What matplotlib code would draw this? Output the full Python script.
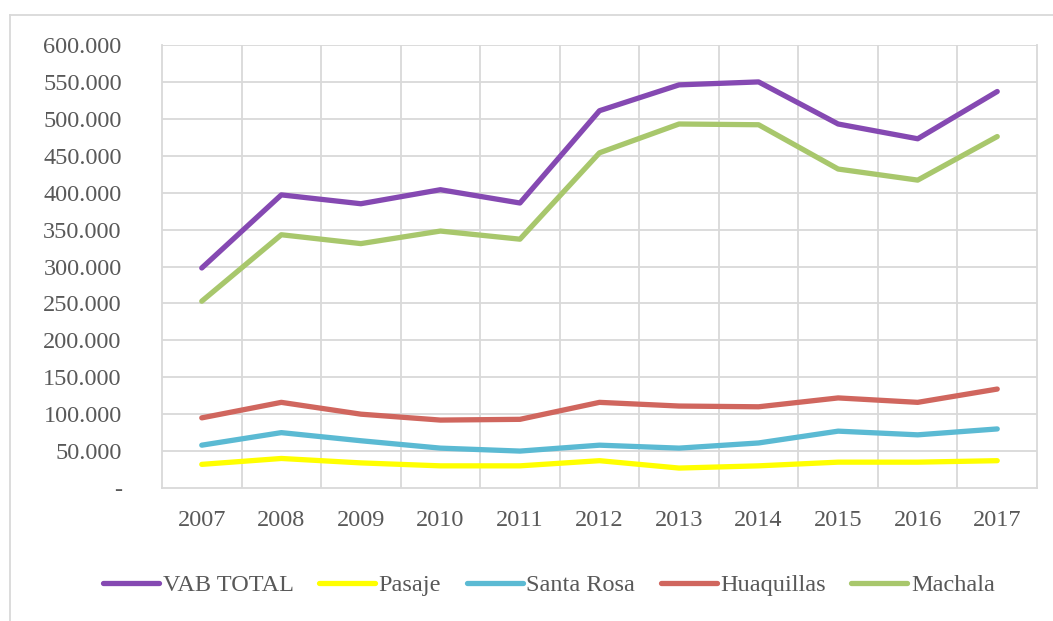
import matplotlib
matplotlib.use("Agg")
import matplotlib.pyplot as plt
from matplotlib.lines import Line2D
from matplotlib.ticker import FuncFormatter, MultipleLocator

years = ["2007", "2008", "2009", "2010", "2011", "2012", "2013", "2014", "2015", "2016", "2017"]
vab_total = [298, 397, 385, 404, 386, 511, 546, 550, 493, 473, 537]
pasaje = [32, 40, 34, 30, 30, 37, 27, 30, 35, 35, 37]
santa_rosa = [58, 75, 64, 54, 50, 58, 54, 61, 77, 72, 80]
huaquillas = [95, 116, 100, 92, 93, 116, 111, 110, 122, 116, 134]
machala = [253, 343, 331, 348, 337, 454, 493, 492, 432, 417, 476]

series = [
    ("VAB TOTAL", vab_total, "#8549B2"),
    ("Pasaje", pasaje, "#FFFF00"),
    ("Santa Rosa", santa_rosa, "#5BBAD3"),
    ("Huaquillas", huaquillas, "#D0665E"),
    ("Machala", machala, "#A8C76C"),
]

plt.rcParams['font.family'] = ['Liberation Serif', 'DejaVu Serif']
txt = "#595959"
fs = 17.5

fig = plt.figure(figsize=(10.53, 6.21), dpi=100)
W, H = 1053, 621
ax = fig.add_axes([162 / W, 1 - 488 / H, (1037 - 162) / W, (488 - 45) / H])

x = list(range(len(years)))
for name, vals, col in series:
    ax.plot(x, [v * 1000 for v in vals], color=col, lw=3.8, solid_capstyle="round",
            solid_joinstyle="round", label=name)

ax.set_xlim(-0.5, len(years) - 0.5)
ax.set_ylim(0, 600000)
ax.yaxis.set_major_locator(MultipleLocator(50000))

def fmt(v, pos):
    if v == 0:
        return "-"
    return f"{int(v):,}".replace(",", ".")

ax.yaxis.set_major_formatter(FuncFormatter(fmt))
ax.set_xticks(x)
ax.set_xticklabels(years)
ax.grid(False)
for yv in range(50000, 600001, 50000):
    ax.axhline(yv, color="#D9D9D9", lw=1.3, zorder=0)
for xv in [i - 0.5 for i in range(1, len(years))]:
    ax.axvline(xv, color="#D9D9D9", lw=1.3, zorder=0)
ax.spines["top"].set_visible(False)
for s in ["left", "bottom", "right"]:
    ax.spines[s].set_color("#D9D9D9")
    ax.spines[s].set_linewidth(1.3)
ax.tick_params(axis="both", which="both", length=0, colors=txt, labelsize=fs)
ax.tick_params(axis="y", pad=29)
ax.tick_params(axis="x", pad=16)

handles = [Line2D([0], [0], color=c, lw=3.8, solid_capstyle="round") for _, _, c in series]
leg = fig.legend(handles, [n for n, _, _ in series], loc="center", bbox_to_anchor=(549 / W, 1 - 585 / H),
                 ncol=5, frameon=False, fontsize=fs, handlelength=2.3, handletextpad=0.15,
                 columnspacing=1.05)
for t in leg.get_texts():
    t.set_color(txt)

# outer chart border (left and top)
fig.add_artist(Line2D([10 / W, 10 / W], [0, 1 - 15 / H], color="#D9D9D9", lw=1.3))
fig.add_artist(Line2D([10 / W, 1], [1 - 15 / H, 1 - 15 / H], color="#D9D9D9", lw=1.3))

fig.savefig("out.png", dpi=100)
